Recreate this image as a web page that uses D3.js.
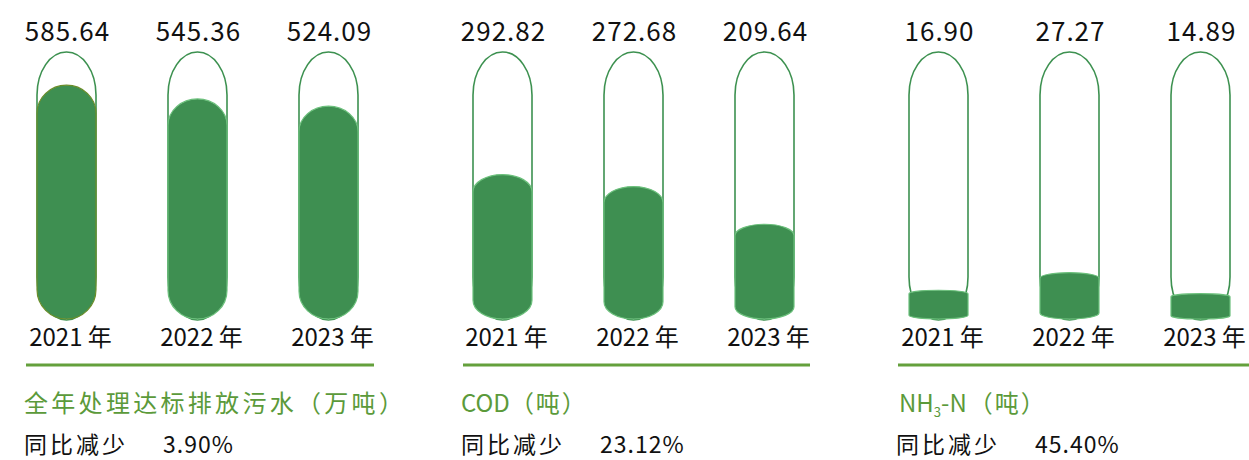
<!DOCTYPE html>
<html><head><meta charset="utf-8">
<script src="https://cdn.jsdelivr.net/npm/d3@7"></script>
<style>
html,body{margin:0;padding:0;background:#fff;}
svg{display:block;font-family:"Noto Sans CJK SC","Noto Sans",sans-serif;}
</style></head>
<body><svg id="c" width="1249" height="460"></svg>
<script>
// ---- data ----
const years = ["2021 年", "2022 年", "2023 年"];
const wasteWater = [585.64, 545.36, 524.09];
const cod = [292.82, 272.68, 209.64];
const nh3n = [16.90, 27.27, 14.89];
const titles = ["全年处理达标排放污水（万吨）", "COD（吨）", "NH3-N（吨）"];
const decreases = ["3.90%", "23.12%", "45.40%"];

// ---- layout ----
const svg = d3.select("#c");
const series = [wasteWater, cod, nh3n];
const domains = [[-100, 683], [51, 498], [0, 157]];
const groupX = [66.5, 502.5, 938.5];
const tubeW = 59, tubeTop = 52, tubeBottom = 320, fillBottom = 319, capRy = 43;
const lineRanges = [[26, 374], [463, 810], [898, 1249]];
const fillColor = "#3e8f51", tubeStroke = "#3d9150";

function capsule(x0, x1, y0, y1, ryTop, ryBot) {
  const rx = (x1 - x0) / 2;
  return `M${x0},${y0 + ryTop} A${rx},${ryTop} 0 0 1 ${x1},${y0 + ryTop} L${x1},${y1 - ryBot} A${rx},${ryBot} 0 0 1 ${x0},${y1 - ryBot} Z`;
}

series.forEach((vals, g) => {
  const x = d3.scalePoint().domain(years).range([groupX[g], groupX[g] + 262]);
  const y = d3.scaleLinear().domain(domains[g]).range([fillBottom, tubeTop]);
  const G = svg.append("g");
  years.forEach((yr, i) => {
    const cx = x(yr), x0 = cx - tubeW / 2, x1 = cx + tubeW / 2;
    G.append("path").attr("d", capsule(x0, x1, tubeTop, tubeBottom, capRy, capRy))
      .attr("fill", "none").attr("stroke", tubeStroke).attr("stroke-width", 1.6);
    const top = y(vals[i]), h = fillBottom - top;
    const ry = Math.min(tubeW / 2, 0.12 * h);
    G.append("path").attr("d", capsule(x0, x1, top, fillBottom, ry, Math.min(tubeW/2, 0.13*h)))
      .attr("fill", fillColor)
      .attr("stroke", (g === 0 && i === 0) ? "#6b8e2a" : "#6cc07c").attr("stroke-width", 1.2);
    G.append("text").attr("x", cx + 1).attr("y", 41).attr("text-anchor", "middle")
      .attr("font-size", 26).attr("fill", "#111").attr("letter-spacing", 1)
      .text(vals[i].toFixed(2));
    G.append("text").attr("x", cx + 4).attr("y", 346).attr("text-anchor", "middle")
      .attr("font-size", 24).attr("fill", "#111")
      .text(yr);
  });
  G.append("line").attr("x1", lineRanges[g][0]).attr("x2", lineRanges[g][1])
    .attr("y1", 365).attr("y2", 365).attr("stroke", "#64a03c").attr("stroke-width", 3);
  const tx = lineRanges[g][0] - 2;
  const t = G.append("text").attr("x", tx).attr("y", 412).attr("font-size", 24)
    .attr("fill", "#5b9a3a");
  if (titles[g].startsWith("NH3")) {
    t.attr("x", tx + 3);
    t.append("tspan").text("NH");
    t.append("tspan").attr("font-size", 13).attr("dy", 5).text("3");
    t.append("tspan").attr("dy", -5).text(titles[g].slice(3, 4));
    t.append("tspan").attr("letter-spacing", 2).text(titles[g].slice(4));
  } else if (g === 0) {
    t.attr("letter-spacing", 3.3).text(titles[g]);
  } else {
    t.append("tspan").text(titles[g].slice(0, 3));
    t.append("tspan").attr("letter-spacing", 2).text(titles[g].slice(3));
  }
  G.append("text").attr("x", tx).attr("y", 453).attr("font-size", 23).attr("fill", "#111")
    .attr("letter-spacing", 3).text("同比减少");
  G.append("text").attr("x", tx + 139).attr("y", 453).attr("font-size", 23).attr("fill", "#111")
    .attr("letter-spacing", 1).text(decreases[g]);
});
</script></body></html>
